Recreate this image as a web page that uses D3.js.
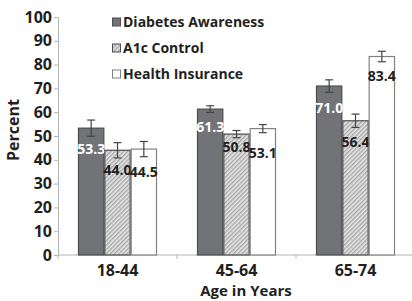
<!DOCTYPE html>
<html>
<head>
<meta charset="utf-8">
<script src="https://cdn.jsdelivr.net/npm/d3@7"></script>
<style>
  body { margin: 0; background: #fff; }
  text { font-family: "Open Sans", sans-serif; font-weight: 700; fill: #231f20; }
</style>
</head>
<body>
<div id="wrapper"></div>
<script>
// data
const ageGroups = ["18-44", "45-64", "65-74"]
const seriesNames = ["Diabetes Awareness", "A1c Control", "Health Insurance"]
const awareness = [53.3, 61.3, 71.0]
const a1cControl = [44.0, 50.8, 56.4]
const insurance = [44.5, 53.1, 83.4]
const awarenessErr = [3.4, 1.4, 2.6]
const a1cErr = [3.2, 1.5, 2.8]
const insuranceErr = [3.2, 1.7, 2.2]
const yTicks = [0, 10, 20, 30, 40, 50, 60, 70, 80, 90, 100]

// label offset below bar top (layout only)
const labelDy = [[21, 20, 23], [18, 13, 24], [22, 21, 20]]

const values = [awareness, a1cControl, insurance]
const errors = [awarenessErr, a1cErr, insuranceErr]

const dataset = []
ageGroups.forEach((g, gi) => {
  seriesNames.forEach((s, si) => {
    dataset.push({ group: g, series: s, value: values[si][gi], err: errors[si][gi], dy: labelDy[gi][si] })
  })
})

const width = 412
const height = 301
const margin = { left: 58, right: -3, top: 17, bottom: 46 }

const svg = d3.select("#wrapper").append("svg")
  .attr("width", width)
  .attr("height", height)

const defs = svg.append("defs")
const pat = defs.append("pattern")
  .attr("id", "hatch")
  .attr("patternUnits", "userSpaceOnUse")
  .attr("width", 3)
  .attr("height", 3)
  .attr("patternTransform", "rotate(45)")
pat.append("rect").attr("width", 3).attr("height", 3).attr("fill", "#e6e6e6")
pat.append("rect").attr("width", 1.4).attr("height", 3).attr("fill", "#a8a8a8")

const fills = {
  "Diabetes Awareness": "#727376",
  "A1c Control": "url(#hatch)",
  "Health Insurance": "#ffffff"
}
const strokes = {
  "Diabetes Awareness": "#4d4d4f",
  "A1c Control": "#4d4d4f",
  "Health Insurance": "#808080"
}

// scales
const xScale = d3.scaleBand()
  .domain(ageGroups)
  .range([margin.left, width - margin.right])
  .paddingInner(0.336)
  .paddingOuter(0.168)

const x1 = d3.scaleBand()
  .domain(seriesNames)
  .range([0, xScale.bandwidth()])

const yScale = d3.scaleLinear()
  .domain([0, 100])
  .range([height - margin.bottom, margin.top])

// axes
const yAxis = svg.append("g")
  .attr("transform", `translate(${margin.left},0)`)
  .call(d3.axisLeft(yScale).tickValues(yTicks).tickSize(4).tickSizeOuter(0))
yAxis.select(".domain").attr("stroke", "#b3b3b3")
yAxis.selectAll(".tick line").attr("stroke", "#b3b3b3")
yAxis.selectAll(".tick text")
  .attr("x", -6)
  .style("font-size", "16px")
  .style("font-family", "'Open Sans', sans-serif")
  .style("font-weight", 700)
  .attr("fill", "#231f20")

const step = xScale.step()
const boundaries = d3.range(ageGroups.length + 1).map(i => margin.left + i * step)
svg.append("line")
  .attr("x1", margin.left).attr("x2", width)
  .attr("y1", yScale(0)).attr("y2", yScale(0))
  .attr("stroke", "#b3b3b3")
svg.selectAll(".xtick")
  .data(boundaries)
  .join("line")
  .attr("x1", d => d).attr("x2", d => d)
  .attr("y1", yScale(0)).attr("y2", yScale(0) + 4)
  .attr("stroke", "#b3b3b3")

svg.selectAll(".xlabel")
  .data(ageGroups)
  .join("text")
  .attr("x", d => xScale(d) + xScale.bandwidth() / 2)
  .attr("y", 276)
  .attr("text-anchor", "middle")
  .style("font-size", "16px")
  .text(d => d)

svg.append("text")
  .attr("x", 246)
  .attr("y", 296)
  .attr("text-anchor", "middle")
  .style("font-size", "15px")
  .text("Age in Years")

svg.append("text")
  .attr("transform", "translate(19,130) rotate(-90)")
  .attr("text-anchor", "middle")
  .style("font-size", "16px")
  .text("Percent")

// bars
const bars = svg.selectAll(".bar")
  .data(dataset)
  .join("g")
  .attr("transform", d => `translate(${xScale(d.group) + x1(d.series)},0)`)

bars.append("rect")
  .attr("x", 0.5)
  .attr("width", x1.bandwidth() - 1)
  .attr("y", d => yScale(d.value))
  .attr("height", d => yScale(0) - yScale(d.value))
  .attr("fill", d => fills[d.series])
  .attr("stroke", d => strokes[d.series])
  .attr("stroke-width", 1.2)

// error bars
const cx = x1.bandwidth() / 2
bars.append("line")
  .attr("x1", cx).attr("x2", cx)
  .attr("y1", d => yScale(d.value + d.err))
  .attr("y2", d => yScale(d.value - d.err))
  .attr("stroke", "#444")
  .attr("stroke-width", 1.2)
bars.selectAll(".cap")
  .data(d => [d.value + d.err, d.value - d.err])
  .join("line")
  .attr("x1", cx - 4).attr("x2", cx + 4)
  .attr("y1", v => yScale(v)).attr("y2", v => yScale(v))
  .attr("stroke", "#444")
  .attr("stroke-width", 1.2)

// value labels
bars.append("text")
  .attr("x", cx)
  .attr("y", d => yScale(d.value) + d.dy)
  .attr("dy", "0.35em")
  .attr("text-anchor", "middle")
  .style("font-size", "14px")
  .style("fill", d => d.series === "Diabetes Awareness" ? "#ffffff" : "#231f20")
  .text(d => d3.format(".1f")(d.value))

// legend
const legend = svg.selectAll(".legend")
  .data(seriesNames)
  .join("g")
  .attr("transform", (d, i) => `translate(112,${22 + i * 26})`)
legend.append("rect")
  .attr("x", 0.5).attr("y", -4)
  .attr("width", 8).attr("height", 8)
  .attr("fill", d => fills[d])
  .attr("stroke", d => strokes[d])
legend.append("text")
  .attr("x", 11)
  .attr("dy", "0.35em")
  .style("font-size", "14px")
  .text(d => d)
</script>
</body>
</html>
